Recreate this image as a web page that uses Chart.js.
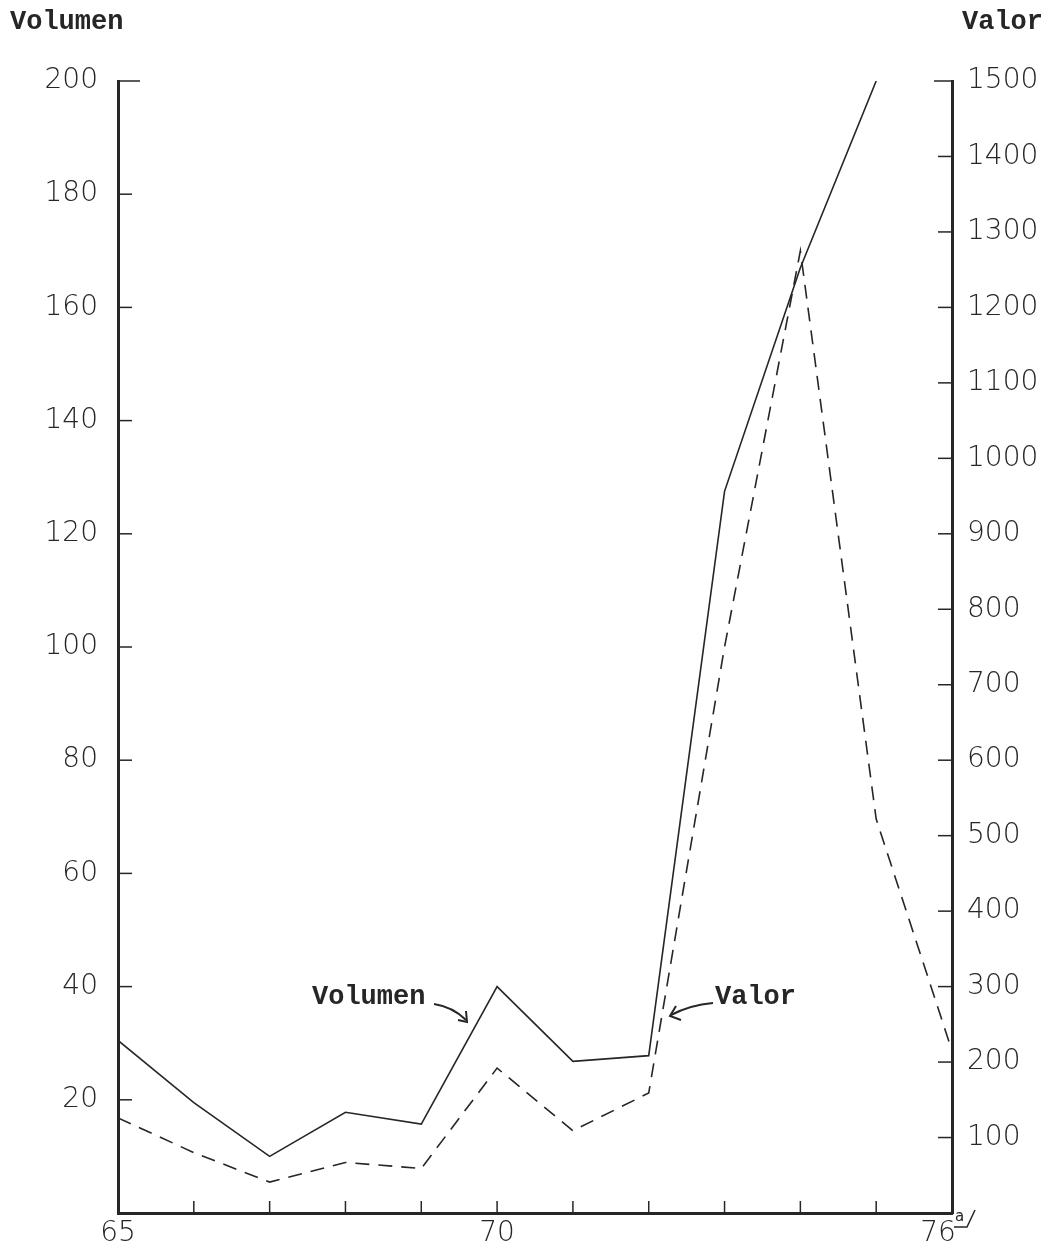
<!DOCTYPE html>
<html><head><meta charset="utf-8">
<script src="https://cdn.jsdelivr.net/npm/chart.js@4.4.1/dist/chart.umd.min.js"></script>
<style>html,body{margin:0;padding:0;background:#fff}#wrap{width:1045px;height:1249px;position:relative}</style>
</head><body><div id="wrap"><canvas id="c" width="1045" height="1249"></canvas></div>
<script>
// ---- data ----
const years = [65, 66, 67, 68, 69, 70, 71, 72, 73, 74, 75, 76];
const volumen = [30.5, 19.5, 10, 17.8, 15.7, 40, 26.8, 27.8, 127.5, 167, 200, null];
const valor = [126, 80, 41, 67, 59, 192, 109, 159, 750, 1275, 522, 215];
const xTickLabels = {65: '65', 70: '70', 76: '76\u2003'};
const leftAxisTitle = 'Volumen';
const rightAxisTitle = 'Valor';
const volumenNote = 'Volumen';
const valorNote = 'Valor';

const INK = '#262626';
const TICKFONT = {family: '"DejaVu Sans", sans-serif', size: 28, weight: '300'};
const TYPE = 'bold 27px "Liberation Mono", "Courier New", monospace';

const marks = {
  id: 'marks',
  afterDraw(chart) {
    const ctx = chart.ctx, a = chart.chartArea;
    const y = chart.scales.y, y2 = chart.scales.y2, x = chart.scales.x;
    ctx.save();
    ctx.strokeStyle = INK;
    ctx.lineWidth = 1.5;
    // left ticks (inside)
    for (let v = 20; v <= 200; v += 20) {
      const p = y.getPixelForValue(v);
      ctx.beginPath(); ctx.moveTo(a.left, p); ctx.lineTo(a.left + (v === 200 ? 22 : 14), p); ctx.stroke();
    }
    // right ticks (inside)
    for (let v = 100; v <= 1500; v += 100) {
      const p = y2.getPixelForValue(v);
      ctx.beginPath(); ctx.moveTo(a.right, p); ctx.lineTo(a.right - (v === 1500 ? 18 : 14), p); ctx.stroke();
    }
    // x ticks (inside)
    for (let yr = 66; yr <= 75; yr++) {
      const p = x.getPixelForValue(yr);
      ctx.beginPath(); ctx.moveTo(p, a.bottom); ctx.lineTo(p, a.bottom - 12); ctx.stroke();
    }
    // titles
    ctx.fillStyle = INK;
    ctx.font = TYPE;
    ctx.textBaseline = 'middle';
    ctx.textAlign = 'left';
    ctx.fillText(leftAxisTitle, 10, 22);
    ctx.textAlign = 'right';
    ctx.fillText(rightAxisTitle, 1043, 22);
    // in-chart notes
    ctx.textAlign = 'left';
    ctx.fillText(volumenNote, 312, 997);
    ctx.fillText(valorNote, 715, 997);
    // arrows
    ctx.lineWidth = 2;
    ctx.beginPath(); ctx.moveTo(434, 1004); ctx.quadraticCurveTo(453, 1007, 466, 1020); ctx.stroke();
    ctx.beginPath(); ctx.moveTo(458, 1020); ctx.lineTo(467, 1022); ctx.lineTo(466, 1011); ctx.stroke();
    ctx.beginPath(); ctx.moveTo(713, 1003); ctx.quadraticCurveTo(690, 1005, 671, 1015); ctx.stroke();
    ctx.beginPath(); ctx.moveTo(676, 1006); ctx.lineTo(670, 1016); ctx.lineTo(681, 1020); ctx.stroke();
    // superscript a/ after 76
    const px = x.getPixelForValue(76);
    ctx.font = '15px "DejaVu Sans", sans-serif';
    ctx.fillText('a', px + 3, 1217);
    ctx.lineWidth = 1.5;
    ctx.beginPath(); ctx.moveTo(px + 2, 1227); ctx.lineTo(px + 15, 1227); ctx.lineTo(px + 23, 1210); ctx.stroke();
    ctx.restore();
  }
};

const pts = arr => years.map((yr, i) => ({x: yr, y: arr[i]}));

new Chart(document.getElementById('c'), {
  type: 'line',
  data: {
    datasets: [
      {label: 'Volumen', data: pts(volumen), yAxisID: 'y', borderColor: INK, borderWidth: 1.6,
       pointRadius: 0, tension: 0, fill: false},
      {label: 'Valor', data: pts(valor), yAxisID: 'y2', borderColor: INK, borderWidth: 1.6,
       borderDash: [14, 9], pointRadius: 0, tension: 0, fill: false}
    ]
  },
  options: {
    responsive: false,
    animation: false,
    devicePixelRatio: 1,
    layout: {padding: {top: 81, left: 0, right: 0, bottom: 0}},
    plugins: {legend: {display: false}, tooltip: {enabled: false}},
    scales: {
      x: {
        type: 'linear', position: 'bottom', min: 65, max: 76,
        grid: {display: false},
        border: {display: true, color: INK, width: 3},
        ticks: {stepSize: 1, autoSkip: false, maxRotation: 0, color: INK, font: TICKFONT, padding: -4,
                callback: v => xTickLabels[v] ?? ''},
        afterFit(s) { s.height = 36; }
      },
      y: {
        position: 'left', min: 0, max: 200,
        grid: {display: false},
        border: {display: true, color: INK, width: 3},
        ticks: {stepSize: 20, color: INK, font: TICKFONT, padding: 12,
                callback: v => v === 0 ? '' : String(v)},
        afterFit(s) { s.width = 118; }
      },
      y2: {
        position: 'right', min: 0, max: 1500,
        grid: {display: false},
        border: {display: true, color: INK, width: 3},
        ticks: {stepSize: 100, color: INK, font: TICKFONT, padding: 7,
                callback: v => v === 0 ? '' : String(v)},
        afterFit(s) { s.width = 93; }
      }
    }
  },
  plugins: [marks]
});
</script></body></html>
